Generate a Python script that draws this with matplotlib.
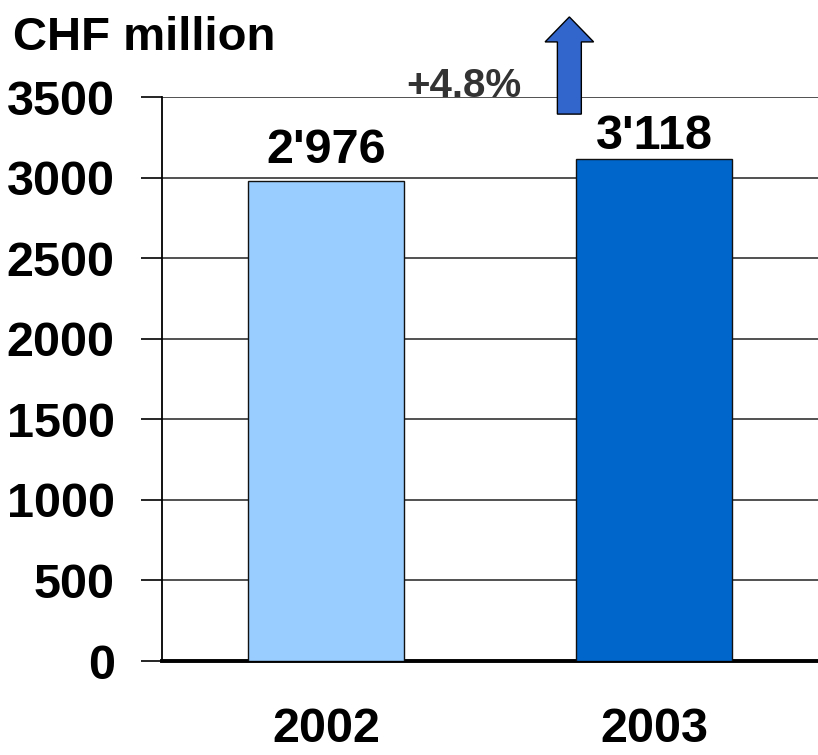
import matplotlib
matplotlib.use("Agg")
import matplotlib.pyplot as plt
from matplotlib.patches import FancyArrow

years = ["2002", "2003"]
revenue = [2976, 3118]
value_labels = ["2'976", "3'118"]
label_offsets = [13, 7]   # points above each bar
bar_colors = ["#99CCFF", "#0066CC"]
growth_label = "+4.8%"
yticks = [0, 500, 1000, 1500, 2000, 2500, 3000, 3500]

plt.rcParams['font.family'] = ['Liberation Sans', 'DejaVu Sans']
plt.rcParams['font.weight'] = 'bold'

fig = plt.figure(figsize=(8.18, 7.55), dpi=100)
ax = fig.add_axes([0.198, 0.1245, 0.802, 0.747])

x = list(range(len(years)))
bars = ax.bar(x, revenue, width=0.476, color=bar_colors,
              edgecolor="#111111", linewidth=1.0, zorder=3)

for b, txt, off in zip(bars, value_labels, label_offsets):
    ax.annotate(txt, (b.get_x() + b.get_width() / 2, b.get_height()),
                xytext=(0, off), textcoords="offset points",
                ha="center", va="baseline", fontsize=35, fontweight="bold")

ax.set_xlim(-0.5, 1.5)
ax.set_ylim(0, 3500)
ax.set_xticks(x)
ax.set_xticklabels(years, fontsize=35, fontweight="bold")
ax.set_yticks(yticks)
ax.set_yticklabels([str(v) for v in yticks], fontsize=35, fontweight="bold")
ax.tick_params(axis="x", length=0, pad=33)
ax.tick_params(axis="y", length=15, width=1.2, pad=19, direction="out")

ax.yaxis.grid(True, color="#222222", linewidth=1.1, zorder=0)
ax.set_axisbelow(True)
for s in ["top", "right"]:
    ax.spines[s].set_visible(False)
ax.spines["left"].set_linewidth(1.3)
ax.spines["bottom"].set_linewidth(2.8)

# upward growth arrow between the two bars
arrow = FancyArrow(0.742, 3394, 0, 603, width=0.073, head_width=0.148,
                   head_length=155, length_includes_head=True,
                   facecolor="#3366CC", edgecolor="black", linewidth=1.0,
                   clip_on=False, zorder=5)
ax.add_patch(arrow)

fig.text(13 / 818, (755 - 50) / 755, "CHF million", fontsize=34,
         fontweight="bold", ha="left", va="baseline")
fig.text(406 / 818, (755 - 97) / 755, growth_label, fontsize=29,
         fontweight="bold", color="#333333", ha="left", va="baseline",
         zorder=-1)

fig.savefig("out.png", dpi=100)
